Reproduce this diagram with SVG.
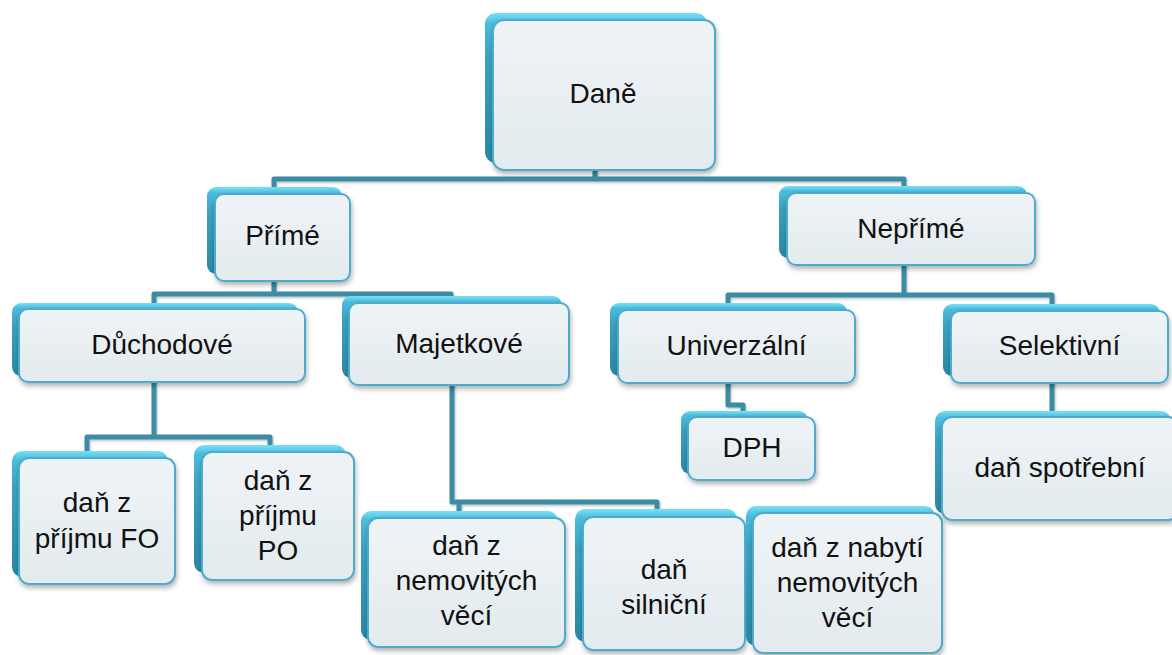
<svg xmlns="http://www.w3.org/2000/svg" width="1172" height="655" viewBox="0 0 1172 655">
  <defs>
    <linearGradient id="gBack" x1="0" y1="0" x2="0" y2="1">
      <stop offset="0" stop-color="#78e0f8"/>
      <stop offset="0.07" stop-color="#4cbcdc"/>
      <stop offset="0.3" stop-color="#3aa2c0"/>
      <stop offset="1" stop-color="#2a86a2"/>
    </linearGradient>
    <linearGradient id="gFront" x1="0" y1="0" x2="0" y2="1">
      <stop offset="0" stop-color="#eef3f6"/>
      <stop offset="1" stop-color="#e3ebef"/>
    </linearGradient>
    <filter id="sh" x="-10%" y="-10%" width="125%" height="130%">
      <feDropShadow dx="1" dy="3" stdDeviation="2.5" flood-color="#000" flood-opacity="0.3"/>
    </filter>
    <filter id="lsh" x="-5%" y="-5%" width="110%" height="110%">
      <feDropShadow dx="1" dy="1.5" stdDeviation="1" flood-color="#000" flood-opacity="0.25"/>
    </filter>
  </defs>
  <style>
    .back { fill: url(#gBack); }
    .front { fill: url(#gFront); stroke: #4eaccb; stroke-width: 2; filter: url(#sh); }
    .t { font-family: "Liberation Sans", Arial, sans-serif; font-size: 28px; fill: #111; text-anchor: middle; }
    .conn path { fill: none; stroke: #3a8ca4; stroke-width: 5; stroke-linejoin: round; }
  </style>
  <rect width="1172" height="655" fill="#ffffff"/>

  <g class="conn" id="connectors" filter="url(#lsh)">
    <path d="M595 168 V179 M274 187 V179 H904 V187"/>
    <path d="M274 279 V294 M154 303 V294 H451 V297"/>
    <path d="M904 263 V295 M728 304 V295 H1052 V305"/>
    <path d="M154 380 V437 M87 451 V437 H270 V446"/>
    <path d="M452 383 V502 H657 V510 M459 502 V511"/>
    <path d="M728 381 V405 H743 V412"/>
    <path d="M1052 381 V412"/>
  </g>

  <g id="dane">
    <rect class="back" x="485" y="13" width="222" height="150" rx="11"/>
    <rect class="front" x="493" y="20" width="222" height="150" rx="11"/>
    <text class="t" x="603" y="103">Daně</text>
  </g>
  <g id="prime">
    <rect class="back" x="207" y="187" width="135" height="87" rx="9"/>
    <rect class="front" x="215" y="194" width="135" height="87" rx="9"/>
    <text class="t" x="282.5" y="245">Přímé</text>
  </g>
  <g id="neprime">
    <rect class="back" x="779" y="186" width="248" height="72" rx="9"/>
    <rect class="front" x="787" y="193" width="248" height="72" rx="9"/>
    <text class="t" x="911" y="238">Nepřímé</text>
  </g>
  <g id="duchodove">
    <rect class="back" x="12" y="303" width="286" height="73" rx="9"/>
    <rect class="front" x="19" y="309" width="286" height="73" rx="9"/>
    <text class="t" x="162" y="354">Důchodové</text>
  </g>
  <g id="majetkove">
    <rect class="back" x="342" y="296" width="220" height="82" rx="9"/>
    <rect class="front" x="349" y="303" width="220" height="82" rx="9"/>
    <text class="t" x="459" y="353">Majetkové</text>
  </g>
  <g id="univerzalni">
    <rect class="back" x="610" y="303" width="237" height="73" rx="9"/>
    <rect class="front" x="618" y="310" width="237" height="73" rx="9"/>
    <text class="t" x="736.5" y="355">Univerzální</text>
  </g>
  <g id="selektivni">
    <rect class="back" x="943" y="304" width="217" height="72" rx="9"/>
    <rect class="front" x="951" y="311" width="217" height="72" rx="9"/>
    <text class="t" x="1059.5" y="355">Selektivní</text>
  </g>
  <g id="fo">
    <rect class="back" x="12" y="451" width="156" height="126" rx="10"/>
    <rect class="front" x="19" y="458" width="156" height="126" rx="10"/>
    <text class="t" x="97" y="512">daň z</text>
    <text class="t" x="97" y="548">příjmu FO</text>
  </g>
  <g id="po">
    <rect class="back" x="194" y="445" width="152" height="128" rx="10"/>
    <rect class="front" x="202" y="452" width="152" height="128" rx="10"/>
    <text class="t" x="278" y="490">daň z</text>
    <text class="t" x="278" y="525">příjmu</text>
    <text class="t" x="278" y="560">PO</text>
  </g>
  <g id="nemovitych">
    <rect class="back" x="361" y="511" width="197" height="129" rx="10"/>
    <rect class="front" x="368" y="518" width="197" height="129" rx="10"/>
    <text class="t" x="466.5" y="555">daň z</text>
    <text class="t" x="466.5" y="590">nemovitých</text>
    <text class="t" x="466.5" y="625">věcí</text>
  </g>
  <g id="silnicni">
    <rect class="back" x="575" y="509" width="162" height="133" rx="10"/>
    <rect class="front" x="583" y="517" width="162" height="133" rx="10"/>
    <text class="t" x="664" y="579">daň</text>
    <text class="t" x="664" y="614">silniční</text>
  </g>
  <g id="nabyti">
    <rect class="back" x="746" y="506" width="189" height="140" rx="10"/>
    <rect class="front" x="753" y="513" width="189" height="140" rx="10"/>
    <text class="t" x="847.5" y="557">daň z nabytí</text>
    <text class="t" x="847.5" y="592">nemovitých</text>
    <text class="t" x="847.5" y="627">věcí</text>
  </g>
  <g id="dph">
    <rect class="back" x="681" y="411" width="127" height="63" rx="9"/>
    <rect class="front" x="688" y="417" width="127" height="63" rx="9"/>
    <text class="t" x="752" y="457">DPH</text>
  </g>
  <g id="spotrebni">
    <rect class="back" x="935" y="411" width="236" height="103" rx="10"/>
    <rect class="front" x="942" y="417" width="236" height="103" rx="10"/>
    <text class="t" x="1060" y="477">daň spotřební</text>
  </g>
</svg>
